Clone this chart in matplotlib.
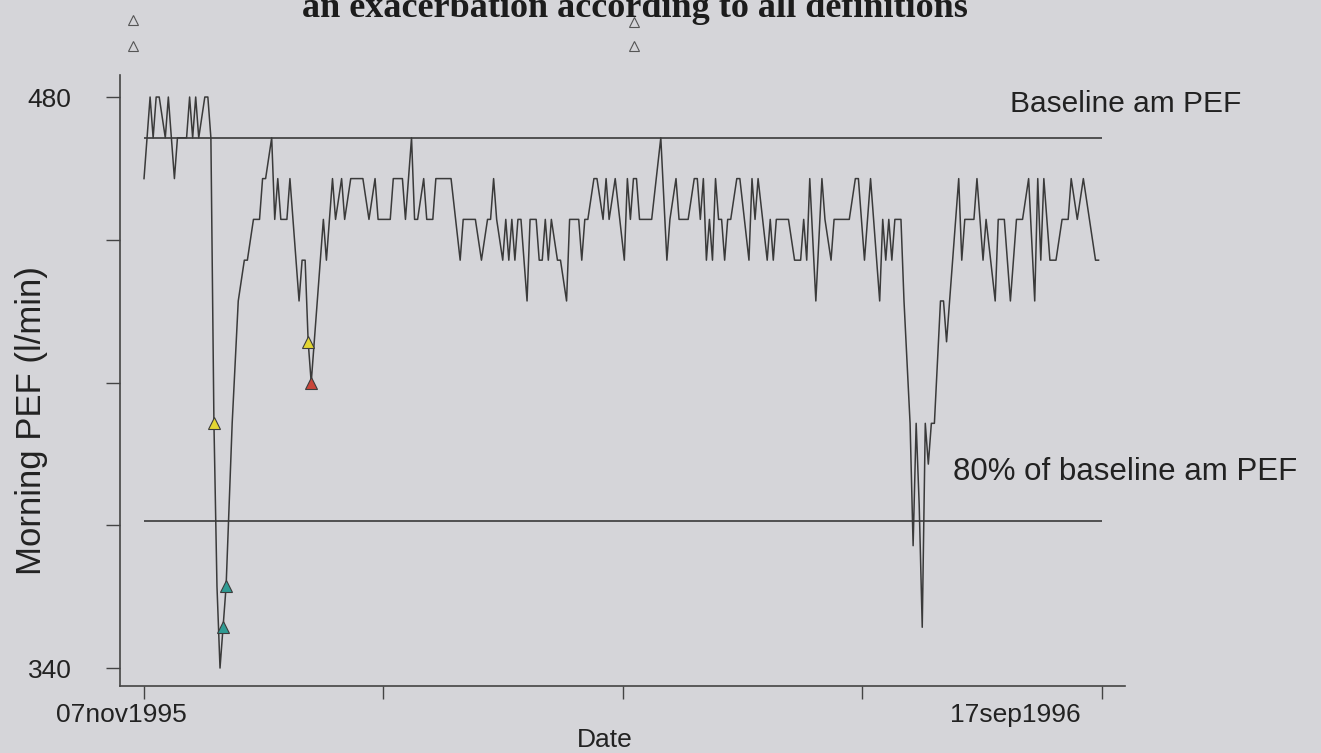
import matplotlib
matplotlib.use("Agg")
import matplotlib.pyplot as plt
import matplotlib.transforms as mtransforms
from matplotlib.lines import Line2D
import numpy as np

# Morning PEF readings: day offset from 07nov1995, value (l/min)
days = [0, 2, 3, 4, 5, 7, 8, 10, 11, 14, 15, 16, 17, 18, 20, 21, 22,
        23, 24, 25, 26, 27, 29, 31, 33, 34, 36, 38, 39, 40, 42, 43, 44, 45, 47, 48,
        51, 52, 53, 54, 55, 59, 60, 62, 63, 65, 66, 68, 72, 74, 76, 77, 81, 82,
        85, 86, 88, 89, 90, 92, 93, 95, 96, 101, 104, 105, 109, 111, 113, 114,
        115, 116, 118, 119, 120, 121, 122, 123, 124, 126, 127, 129, 130, 131,
        132, 133, 134, 136, 137, 139, 140, 143, 144, 145, 146, 148, 149, 151,
        152, 153, 155, 158, 159, 160, 161, 162, 163, 167, 170, 172, 173, 175,
        176, 179, 181, 182, 183, 184, 185, 186, 187, 188, 189, 190, 191, 192,
        193, 195, 196, 199, 200, 201, 202, 205, 206, 207, 208, 212, 214, 216,
        217, 218, 219, 221, 223, 224, 226, 227, 232, 234, 235, 237, 239, 242,
        243, 244, 245, 246, 247, 249, 250, 252, 253, 254, 255, 256, 257, 258,
        259, 260, 262, 263, 264, 265, 266, 267, 268, 269, 270, 273, 274, 276,
        277, 280, 281, 283, 285, 287, 289, 291, 293, 294, 295, 296, 298, 300,
        302, 304, 305, 307, 309, 313, 314]
pef = [460, 480, 470, 480, 480, 470, 480, 460, 470, 470, 480, 470, 480, 470, 480, 480, 470,
       400, 360, 340, 350, 360, 400, 430, 440, 440, 450, 450, 460, 460, 470, 450, 460, 450, 450, 460,
       430, 440, 440, 420, 410, 450, 440, 460, 450, 460, 450, 460, 460, 450, 460, 450, 450, 460,
       460, 450, 470, 450, 450, 460, 450, 450, 460, 460, 440, 450, 450, 440, 450, 450,
       460, 450, 440, 450, 440, 450, 440, 450, 450, 430, 450, 450, 440, 440,
       450, 440, 450, 440, 440, 430, 450, 450, 440, 450, 450, 460, 460, 450,
       460, 450, 460, 440, 460, 450, 460, 460, 450, 450, 470, 440, 450, 460,
       450, 450, 460, 460, 450, 460, 440, 450, 440, 460, 450, 450, 440, 450,
       450, 460, 460, 440, 460, 450, 460, 440, 450, 440, 450, 450, 440, 440,
       450, 440, 460, 430, 460, 450, 440, 450, 450, 460, 460, 440, 460, 430,
       450, 440, 450, 440, 450, 450, 430, 400, 370, 400, 380, 350, 400, 390,
       400, 400, 430, 430, 420, 430, 440, 450, 460, 440, 450, 450, 460, 440,
       450, 430, 450, 450, 430, 450, 450, 460, 430, 460, 440, 460, 440, 440,
       450, 450, 460, 450, 460, 440, 440]

baseline = 470
pct80 = 0.8 * baseline
last_day = 315

# exacerbation markers (days)
yellow_days = [23, 54]
teal_days = [26, 27]
red_days = [55]

bg = '#d5d5d9'
ink = '#3a3a3a'

fig = plt.figure(figsize=(13.21, 7.53), dpi=100, facecolor=bg)
ax = fig.add_axes([120/1321, 1-686/753, 1005/1321, 611/753], facecolor=bg)

ax.plot(days, pef, color=ink, lw=1.1)
ax.hlines([baseline, pct80], 0, last_day, color=ink, lw=1.2)

lookup = dict(zip(days, pef))
for dl, col in [(yellow_days, '#e3d632'), (teal_days, '#2f9c94'), (red_days, '#c9453a')]:
    ax.plot(dl, [lookup[d] for d in dl], linestyle='none', marker='^', ms=8,
            mfc=col, mec='#3c3c3c', mew=0.8, zorder=3)

txt = dict(family='Liberation Sans', color='#222222')
ax.text(285, 476.3, 'Baseline am PEF', fontsize=21.5, va='baseline', **txt)
ax.text(266, 386, '80% of baseline am PEF', fontsize=22.5, va='baseline', **txt)

ax.set_xlim(-7.9, 322.7)
ax.set_ylim(335.6, 485.4)
ax.spines['top'].set_visible(False)
ax.spines['right'].set_visible(False)
for s in ['left', 'bottom']:
    ax.spines[s].set_color('#444444')
    ax.spines[s].set_linewidth(1.2)

ax.set_xticks(np.linspace(0, last_day, 5))
ax.set_xticklabels(['07nov1995', '', '', '', '17sep1996'])
ax.set_yticks([340, 375, 410, 445, 480])
ax.set_yticklabels(['340', '', '', '', '480'])
ax.tick_params(axis='y', length=10, width=1, color='#444444', pad=25, labelsize=19)
ax.tick_params(axis='x', length=9, width=1, color='#444444', pad=3, labelsize=19)
for lab in ax.get_xticklabels() + ax.get_yticklabels():
    lab.set_family('Liberation Sans')
    lab.set_color('#222222')
# date labels sit left of their ticks in the original
xlabs = ax.get_xticklabels()
for lab, dx in [(xlabs[0], -23), (xlabs[-1], -86)]:
    lab.set_transform(lab.get_transform() +
                      mtransforms.ScaledTranslation(dx/100, 0, fig.dpi_scale_trans))

ax.set_xlabel('Date', fontsize=19, **txt)
ax.xaxis.set_label_coords(0.4826, -0.0687)
ax.set_ylabel('Morning PEF (l/min)', fontsize=25, **txt)
ax.yaxis.set_label_coords(-0.072, 0.435)

# clipped title from the page and open triangles above the plot
fig.text(635/1321, 1-17/753, 'an exacerbation according to all definitions',
         family='Liberation Serif', weight='bold', fontsize=26, ha='center',
         va='baseline', color='#1c1c1c')
for px, py in [(133, 20), (133, 46), (634, 22), (634, 46)]:
    fig.add_artist(Line2D([px/1321], [1-py/753], transform=fig.transFigure,
                          marker='^', ms=7, mfc='none', mec='#555555', mew=0.8))

fig.savefig('out.png', dpi=100, facecolor=bg)
